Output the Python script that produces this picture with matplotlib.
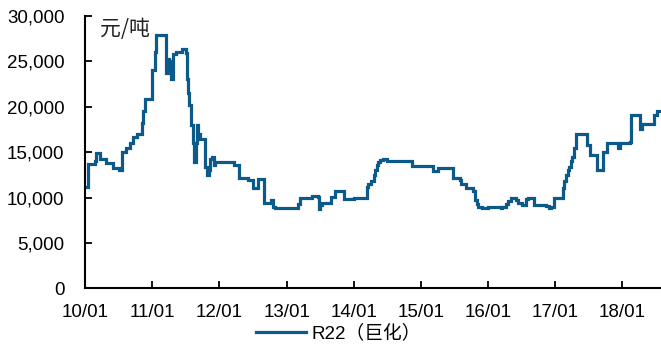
import matplotlib
matplotlib.use("Agg")
import matplotlib.pyplot as plt
import matplotlib.dates as mdates
import pandas as pd

plt.rcParams['font.family'] = ['Liberation Sans', 'Noto Sans CJK SC', 'DejaVu Sans']

dates = [
    "2010-01-01", "2010-01-15", "2010-02-25", "2010-03-03", "2010-03-20", "2010-04-25",
    "2010-05-30", "2010-07-05", "2010-07-20", "2010-08-10", "2010-08-30", "2010-09-17",
    "2010-10-08", "2010-11-03", "2010-11-11", "2010-11-22", "2010-12-28", "2011-01-15",
    "2011-01-20", "2011-03-15", "2011-03-18", "2011-03-25", "2011-03-31", "2011-04-05",
    "2011-04-15", "2011-04-22", "2011-05-08", "2011-06-10", "2011-07-01", "2011-07-06",
    "2011-07-15", "2011-07-22", "2011-08-01", "2011-08-08", "2011-08-14", "2011-08-18",
    "2011-08-25", "2011-09-01", "2011-09-06", "2011-09-15", "2011-09-28", "2011-10-12",
    "2011-10-27", "2011-11-03", "2011-11-10", "2011-11-20", "2011-12-03", "2011-12-08",
    "2012-03-18", "2012-04-19", "2012-06-07", "2012-07-02", "2012-07-31", "2012-08-30",
    "2012-10-05", "2012-10-19", "2012-10-31", "2013-03-03", "2013-03-14", "2013-05-18",
    "2013-06-22", "2013-06-28", "2013-07-04", "2013-07-12", "2013-08-29", "2013-09-20",
    "2013-11-10", "2014-01-01", "2014-03-14", "2014-03-22", "2014-04-03", "2014-04-20",
    "2014-04-28", "2014-05-08", "2014-05-15", "2014-05-26", "2014-06-10", "2014-07-01",
    "2014-11-14", "2015-03-07", "2015-04-07", "2015-06-24", "2015-08-01", "2015-08-07",
    "2015-09-05", "2015-10-12", "2015-10-25", "2015-11-02", "2015-11-10", "2015-11-28",
    "2016-01-01", "2016-03-10", "2016-03-20", "2016-04-06", "2016-04-20", "2016-05-04",
    "2016-06-03", "2016-06-13", "2016-07-02", "2016-07-29", "2016-08-07", "2016-09-09",
    "2016-11-10", "2016-11-28", "2016-12-08", "2016-12-24", "2017-02-10", "2017-02-18",
    "2017-02-28", "2017-03-10", "2017-03-19", "2017-03-27", "2017-04-05", "2017-04-12",
    "2017-04-23", "2017-06-21", "2017-07-10", "2017-08-15", "2017-09-21", "2017-10-09",
    "2017-12-09", "2017-12-20", "2018-02-14", "2018-02-20", "2018-04-09", "2018-04-20",
    "2018-06-24", "2018-07-09", "2018-07-31",
]
prices = [
    11200, 13700, 14000, 14900, 14300, 13800,
    13300, 13000, 15000, 15500, 16000, 16700,
    17000, 18200, 19500, 20800, 24000, 26000,
    27900, 25000, 23700, 25200, 24000, 25000,
    23000, 25800, 26000, 26300, 25900, 23000,
    21500, 20200, 18000, 16000, 15200, 13900,
    16000, 18000, 17000, 16500, 16400, 13400,
    12500, 13000, 14300, 14500, 13600, 13900,
    13600, 12100, 11900, 11000, 12000, 9400,
    9700, 9000, 8900, 9300, 10000, 10200,
    10070, 8700, 9200, 9400, 10070, 10700,
    9800, 10000, 11200, 11500, 11800, 12500,
    13000, 13600, 13900, 14100, 14200, 14000,
    13500, 12900, 13200, 12100, 11900, 11500,
    11000, 10700, 9700, 9300, 9000, 8800,
    9000, 8800, 9000, 9300, 9600, 10000,
    9700, 9400, 9200, 9800, 9900, 9200,
    9100, 8800, 9000, 9900, 11000, 11800,
    12500, 13000, 13400, 14000, 14500, 15500,
    17000, 15800, 14700, 13000, 15000, 16000,
    15500, 16000, 16100, 19100, 17500, 18100,
    19100, 19500, 19500,
]
series_label = "R22（巨化）"
unit_label = "元/吨"
y_ticks = [0, 5000, 10000, 15000, 20000, 25000, 30000]

x = pd.to_datetime(dates)

fig = plt.figure(figsize=(6.61, 3.45), dpi=100)
ax = fig.add_axes([0.129, 0.164, 0.871, 0.790])

ax.plot(x, prices, drawstyle='steps-post', color='#0b5a8a', linewidth=2.3,
        label=series_label, solid_joinstyle='miter')

ax.set_xlim(pd.Timestamp("2010-01-01"), pd.Timestamp("2018-07-31"))
ax.set_ylim(0, 30000)
ax.set_yticks(y_ticks)
ax.yaxis.set_major_formatter(matplotlib.ticker.FuncFormatter(lambda v, p: f"{int(v):,}"))
ax.xaxis.set_major_locator(mdates.YearLocator())
ax.xaxis.set_major_formatter(mdates.DateFormatter('%y/%m'))

for s in ['top', 'right']:
    ax.spines[s].set_visible(False)
for s in ['left', 'bottom']:
    ax.spines[s].set_linewidth(1.5)
    ax.spines[s].set_color('black')

ax.tick_params(axis='both', direction='in', length=5, width=1.3, labelsize=13.5,
               colors='black')
ax.tick_params(axis='x', pad=11)
ax.tick_params(axis='y', pad=15)

ax.text(0.025, 0.95, unit_label, transform=ax.transAxes, fontsize=15,
        family=['Noto Sans CJK SC', 'DejaVu Sans'], va='center', ha='left',
        color='#222222')

fig.legend(loc='center', bbox_to_anchor=(0.512, 0.034), frameon=False,
           handlelength=2.7, handletextpad=0.3,
           prop={'family': ['Liberation Sans', 'Noto Sans CJK SC'], 'size': 13.5})

fig.savefig("out.png", dpi=100)
